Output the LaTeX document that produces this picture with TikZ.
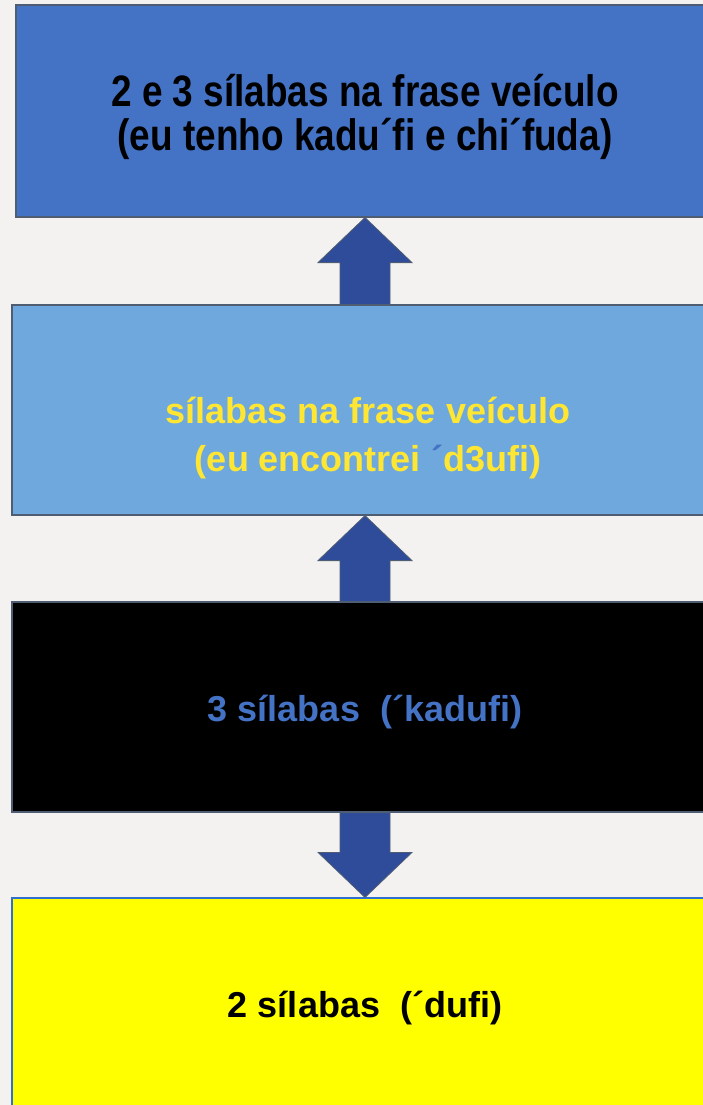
\documentclass[tikz,border=0pt]{standalone}
\usepackage{fontspec}
\setmainfont{Liberation Sans}
\newfontfamily\narrowfont[FakeStretch=0.84]{Liberation Sans}
\usepackage{xcolor}
\usetikzlibrary{calc,positioning}
\definecolor{darkblue}{HTML}{4472C4}
\definecolor{skyblue}{HTML}{6FA8DC}
\definecolor{arrowblue}{HTML}{2F4C9A}
\definecolor{edgegray}{HTML}{4F5D73}
\definecolor{textyellow}{HTML}{FFE633}
\definecolor{pagegray}{HTML}{F3F2F1}
\definecolor{boxyellow}{HTML}{FFFF00}
\definecolor{yellowedge}{HTML}{2F6FD0}
% fat block arrow between two anchors: shaft, then head ending at #2
\newcommand{\blockarrow}[2]{%
  \draw[fatarrow] ($(#1)+(-25,0)$) -- ($(#2)!45pt!(#1)+(-25,0)$)
    -- ($(#2)!45pt!(#1)+(-47,0)$) -- (#2) -- ($(#2)!45pt!(#1)+(47,0)$)
    -- ($(#2)!45pt!(#1)+(25,0)$) -- ($(#1)+(25,0)$) -- cycle;}

\begin{document}
\begin{tikzpicture}[x=1pt, y=-1pt,
  box/.style={draw=edgegray, line width=1.2pt, minimum width=706pt,
              minimum height=210pt, inner sep=0pt},
  boxtext/.style={align=center, font=\bfseries\fontsize{36}{48}\selectfont},
  fatarrow/.style={fill=arrowblue, draw=edgegray, line width=0.8pt}
]
\fill[pagegray] (0,0) rectangle (703,1105);
\useasboundingbox (0,0) rectangle (703,1105);

\node[box, fill=darkblue, minimum width=698pt, minimum height=212pt,
      label={[boxtext, font=\narrowfont\bfseries\fontsize{44}{44}\selectfont,
              yshift=-6pt]center:2 e 3 sílabas na frase veículo\\(eu tenho kadu´fi e chi´fuda)}]
  (frase23) at (365,111) {};
\node[box, fill=skyblue,
      label={[boxtext, text=textyellow, xshift=3pt, yshift=-28pt]center:sílabas na frase veículo\\(eu encontrei {\color{darkblue}´}d3ufi)}]
  (frase) at (365,410) {};
\node[box, fill=black,
      label={[boxtext, text=darkblue, yshift=-5pt]center:3 sílabas \ (´kadufi)}]
  (tres) at (365,707) {};
\node[box, fill=boxyellow, draw=yellowedge, minimum height=214pt,
      label={[boxtext, yshift=-3pt]center:2 sílabas \ (´dufi)}]
  (duas) at (365,1005) {};

\blockarrow{frase.north}{frase23.south}
\blockarrow{tres.north}{frase.south}
\blockarrow{tres.south}{duas.north}
\end{tikzpicture}
\end{document}
